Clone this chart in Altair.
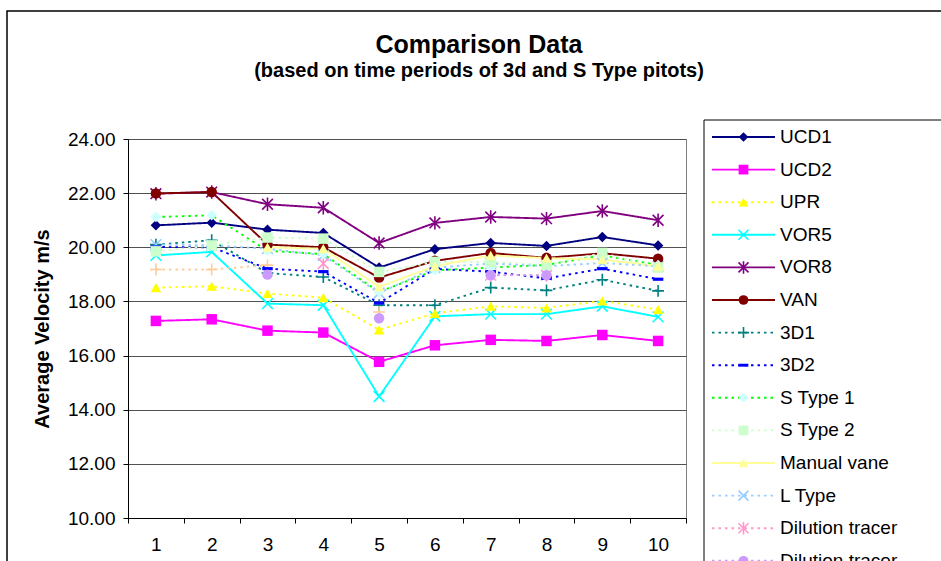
import altair as alt
import pandas as pd

# ---------------- data ----------------
periods = [1, 2, 3, 4, 5, 6, 7, 8, 9, 10]
series_names = ["UCD1", "UCD2", "UPR", "VOR5", "VOR8", "VAN", "3D1", "3D2",
                "S Type 1", "S Type 2", "Manual vane", "L Type",
                "Dilution tracer", "Dilution tracer ", "Dilution tracer  "]

ucd1 = [20.81, 20.91, 20.65, 20.53, 19.25, 19.93, 20.16, 20.05, 20.38, 20.07]
ucd2 = [17.28, 17.34, 16.92, 16.85, 15.77, 16.38, 16.58, 16.54, 16.76, 16.54]
upr = [18.51, 18.56, 18.29, 18.14, 16.95, 17.56, 17.82, 17.76, 18.02, 17.70]
vor5 = [19.70, 19.83, 17.92, 17.86, 14.49, 17.45, 17.53, 17.53, 17.82, 17.43]
vor8 = [21.98, 22.04, 21.59, 21.46, 20.16, 20.90, 21.12, 21.06, 21.34, 21.00]
van = [21.99, 22.04, 20.10, 20.00, 18.88, 19.50, 19.79, 19.61, 19.78, 19.58]
d3_1 = [20.10, 20.26, 19.05, 18.90, 17.86, 17.86, 18.51, 18.41, 18.80, 18.39]
d3_2 = [20.01, 20.00, 19.21, 19.10, 17.94, 19.20, 19.10, 18.85, 19.21, 18.82]
s_type1 = [21.12, 21.18, 19.87, 19.75, 18.35, 19.15, 19.25, 19.35, 19.70, 19.35]
s_type2 = [19.85, 20.07, 20.36, 20.32, 19.09, 19.46, 19.46, 19.34, 19.79, 19.25]
manual_vane = [None, None, 20.00, 19.95, 18.54, 19.30, 19.70, 19.60, 19.55, 19.30]
l_type = [20.10, 20.07, 19.95, 19.70, 18.31, 19.25, 19.40, 19.30, 19.42, 19.30]
dilution_1 = [None, None, None, 19.40, None, None, 18.97, 18.97, None, None]
dilution_2 = [None, None, 18.99, None, 17.38, None, 18.97, 18.97, None, None]
dilution_3 = [19.18, 19.18, 19.34, None, 17.61, None, None, None, None, None]

all_values = [ucd1, ucd2, upr, vor5, vor8, van, d3_1, d3_2, s_type1, s_type2,
              manual_vane, l_type, dilution_1, dilution_2, dilution_3]

y_ticks = [10, 12, 14, 16, 18, 20, 22, 24]
chart_title = "Comparison Data"
chart_subtitle = "(based on time periods of 3d and S Type pitots)"
y_title = "Average Velocity m/s"

# ---------------- styles ----------------
line_colors = ["#000080", "#FF00FF", "#FFFF00", "#00FFFF", "#800080", "#800000",
               "#008080", "#0000FF", "#00FF00", "#CCFFCC", "#FFFF99", "#99CCFF",
               "#FF99CC", "#CC99FF", "#FFCC99"]
marker_colors = ["#000080", "#FF00FF", "#FFFF00", "#00FFFF", "#800080", "#800000",
                 "#008080", "#0000FF", "#CCFFFF", "#CCFFCC", "#FFFF99", "#99CCFF",
                 "#FF99CC", "#CC99FF", "#FFCC99"]
X_SHAPE = "M-1,-1L1,1M-1,1L1,-1"
STAR_SHAPE = "M-1,-1L1,1M-1,1L1,-1M0,-1.25L0,1.25"
PLUS_SHAPE = "M-1.1,0L1.1,0M0,-1.1L0,1.1"
DASH_SHAPE = "M-1,-0.3L1,-0.3L1,0.3L-1,0.3Z"
shapes = ["diamond", "square", "triangle-up", X_SHAPE, STAR_SHAPE, "circle",
          PLUS_SHAPE, DASH_SHAPE, "diamond", "square", "triangle-up", X_SHAPE,
          STAR_SHAPE, "circle", PLUS_SHAPE]
SOLID = [1, 0]
DOT = [2.5, 4]
dashes = [SOLID, SOLID, DOT, SOLID, SOLID, SOLID, DOT, DOT, DOT, DOT, SOLID, DOT,
          DOT, DOT, DOT]
stroked_markers = [n for n, s in zip(series_names, shapes)
                   if s in (X_SHAPE, STAR_SHAPE, PLUS_SHAPE)]

FONT = "Liberation Sans"
FILL_SIZE = 110
STROKE_SIZE = 115

# ---------------- tables ----------------
rows = []
for k, (name, vals) in enumerate(zip(series_names, all_values)):
    for p, v in zip(periods, vals):
        rows.append({"period": p, "series": name, "order": k, "value": v})
df = pd.DataFrame(rows)
df_pts = df.dropna(subset=["value"])
df_pts_fill = df_pts[~df_pts["series"].isin(stroked_markers)]
df_pts_stroke = df_pts[df_pts["series"].isin(stroked_markers)]

leg_rows = []
for k, name in enumerate(series_names):
    for lx in (0.0, 1.0):
        leg_rows.append({"series": name, "k": k, "lx": lx})
df_leg = pd.DataFrame(leg_rows)
df_leg_pt = pd.DataFrame({"series": series_names, "k": list(range(len(series_names))),
                          "lx": [0.5] * len(series_names),
                          "label": [s.strip() for s in series_names]})
df_leg_pt_fill = df_leg_pt[~df_leg_pt["series"].isin(stroked_markers)]
df_leg_pt_stroke = df_leg_pt[df_leg_pt["series"].isin(stroked_markers)]

# ---------------- encodings ----------------
stroke_enc = alt.Stroke("series:N", scale=alt.Scale(domain=series_names, range=line_colors), legend=None)
fill_enc = alt.Fill("series:N", scale=alt.Scale(domain=series_names, range=marker_colors), legend=None)
shape_enc = alt.Shape("series:N", scale=alt.Scale(domain=series_names, range=shapes), legend=None)
dash_enc = alt.StrokeDash("series:N", scale=alt.Scale(domain=series_names, range=dashes), legend=None)

x_enc = alt.X("period:O",
              scale=alt.Scale(type="band", paddingInner=0, paddingOuter=0),
              axis=alt.Axis(labelAngle=0, labelFontSize=19, labelFont=FONT, labelColor="black",
                            labelPadding=12, tickSize=5, tickBand="extent", tickColor="black",
                            domainColor="black", grid=False, title=None))
y_enc = alt.Y("value:Q",
              scale=alt.Scale(domain=[10, 24], nice=False, zero=False),
              axis=alt.Axis(values=y_ticks, format=".2f", labelFontSize=19, labelFont=FONT,
                            labelColor="black", labelPadding=8, tickSize=5, tickColor="black",
                            domainColor="black", gridColor="#505050", gridWidth=1,
                            title=y_title, titleFont=FONT, titleFontSize=20,
                            titleFontWeight="bold", titleColor="black", titleAngle=270,
                            titleX=-86, titleY=189.5, titleAlign="center",
                            titleBaseline="middle"))

lines = alt.Chart(df).mark_line(strokeWidth=1.9, invalid="break-paths-filter-domains").encode(
    x=x_enc, y=y_enc, stroke=stroke_enc, strokeDash=dash_enc, detail="series:N",
    order="period:O")
pts_fill = alt.Chart(df_pts_fill).mark_point(filled=True, size=FILL_SIZE, strokeWidth=0, opacity=1).encode(
    x=x_enc, y=y_enc, fill=fill_enc, shape=shape_enc)
pts_stroke = alt.Chart(df_pts_stroke).mark_point(filled=False, size=STROKE_SIZE, strokeWidth=1.6, opacity=1).encode(
    x=x_enc, y=y_enc, stroke=stroke_enc, shape=shape_enc)
main = alt.layer(lines, pts_stroke, pts_fill)

lx_enc = alt.X("lx:Q", scale=alt.Scale(domain=[0, 1], range=[584, 647]), axis=None)
ly_enc = alt.Y("k:Q", scale=alt.Scale(domain=[0, 10], range=[-2, 324]), axis=None)

leg_lines = alt.Chart(df_leg).mark_line(strokeWidth=1.9).encode(
    x=lx_enc, y=ly_enc, stroke=stroke_enc, strokeDash=dash_enc, detail="series:N")
leg_pts_fill = alt.Chart(df_leg_pt_fill).mark_point(filled=True, size=95, strokeWidth=0, opacity=1).encode(
    x=lx_enc, y=ly_enc, fill=fill_enc, shape=shape_enc)
leg_pts_stroke = alt.Chart(df_leg_pt_stroke).mark_point(filled=False, size=100, strokeWidth=1.6, opacity=1).encode(
    x=lx_enc, y=ly_enc, stroke=stroke_enc, shape=shape_enc)
leg_text = alt.Chart(df_leg_pt).mark_text(align="left", baseline="middle", dx=5, fontSize=19,
                                          font=FONT, color="black").encode(
    x=alt.X("lx2:Q", scale=alt.Scale(domain=[0, 1], range=[584, 647]), axis=None),
    y=ly_enc, text="label:N").transform_calculate(lx2="1")
legend = alt.layer(leg_lines, leg_pts_fill, leg_pts_stroke, leg_text)

one = pd.DataFrame({"t": [chart_title], "s": [chart_subtitle]})
legend_box = alt.Chart(one).mark_rect(fillOpacity=0, stroke="black", strokeWidth=1).encode(
    x=alt.value(576), x2=alt.value(900), y=alt.value(-19), y2=alt.value(600))
outer_box = alt.Chart(one).mark_rect(fillOpacity=0, stroke="black", strokeWidth=1.5).encode(
    x=alt.value(-121), x2=alt.value(900), y=alt.value(-128), y2=alt.value(700))
title_t = alt.Chart(one).mark_text(align="center", baseline="alphabetic", fontSize=25,
                                   fontWeight="bold", font=FONT, color="black").encode(
    x=alt.value(351), y=alt.value(-86), text="t:N")
subtitle_t = alt.Chart(one).mark_text(align="center", baseline="alphabetic", fontSize=20,
                                      fontWeight="bold", font=FONT, color="black").encode(
    x=alt.value(351), y=alt.value(-62), text="s:N")
deco = alt.layer(outer_box, legend_box, title_t, subtitle_t)

chart = alt.layer(deco, main, legend).resolve_scale(x="independent", y="independent").properties(
    width=558, height=379,
    autosize=alt.AutoSizeParams(type="none"),
    padding={"left": 128, "top": 139, "right": 255, "bottom": 43},
    background="white",
).configure_view(stroke="#808080", strokeWidth=1)

chart.save("out.html", embed_options={"renderer": "svg", "actions": False})
